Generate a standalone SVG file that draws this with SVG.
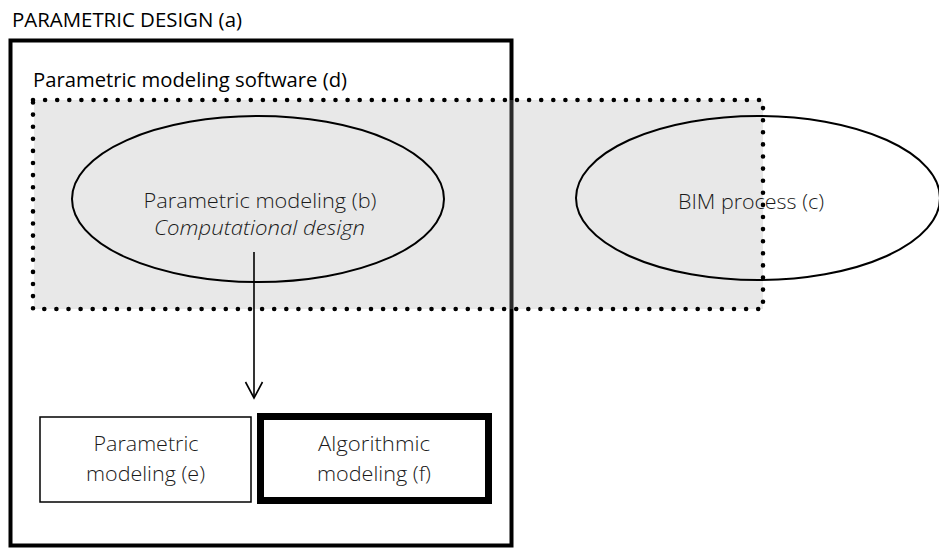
<svg xmlns="http://www.w3.org/2000/svg" width="939" height="548" viewBox="0 0 939 548">
<style>
text{font-family:"Open Sans","Liberation Sans",sans-serif;fill:#1a1a1a;}
.lt{font-weight:300;font-size:19.5px;}
.hd{font-weight:400;font-size:20px;fill:#000;}
.thin{fill:none;stroke:#000;stroke-width:2;}
</style>
<defs>
<clipPath id="fclip"><rect x="264" y="420" width="221" height="67"/></clipPath>
</defs>
<text class="hd" x="12" y="27" textLength="230" lengthAdjust="spacingAndGlyphs">PARAMETRIC DESIGN (a)</text>
<g id="a">
<rect x="10.5" y="40.5" width="501" height="505" fill="none" stroke="#000" stroke-width="4"/>
</g>
<g id="d">
<rect x="34" y="100" width="729" height="209" fill="#a5a5a5" fill-opacity="0.255"/>
<rect x="33" y="100" width="730" height="209" fill="none" stroke="#000" stroke-width="4.6" stroke-linecap="round" stroke-dasharray="0 12.1"/>
<text class="hd" x="33" y="87" textLength="314" lengthAdjust="spacingAndGlyphs">Parametric modeling software (d)</text>
</g>
<g id="b">
<ellipse cx="258" cy="199" rx="186" ry="83" class="thin"/>
<text class="lt" x="260" y="208" text-anchor="middle" textLength="233" lengthAdjust="spacingAndGlyphs">Parametric modeling (b)</text>
<text class="lt" x="259.5" y="235" text-anchor="middle" font-style="italic" textLength="211" lengthAdjust="spacingAndGlyphs">Computational design</text>
</g>
<g id="c">
<ellipse cx="758" cy="198" rx="182" ry="82" class="thin"/>
<text class="lt" x="751" y="209" text-anchor="middle" textLength="146" lengthAdjust="spacingAndGlyphs">BIM process (c)</text>
</g>
<g id="e">
<rect x="40" y="417" width="211" height="85" fill="#fff" stroke="#000" stroke-width="1.5"/>
<text class="lt" x="146" y="451" text-anchor="middle" textLength="105" lengthAdjust="spacingAndGlyphs">Parametric</text>
<text class="lt" x="145.5" y="481" text-anchor="middle" textLength="119" lengthAdjust="spacingAndGlyphs">modeling (e)</text>
</g>
<g id="f">
<rect x="260.5" y="416.5" width="228" height="84" fill="#fff" stroke="#000" stroke-width="7"/>
<text class="lt" x="374" y="451" text-anchor="middle" textLength="112" lengthAdjust="spacingAndGlyphs">Algorithmic</text>
<text class="lt" x="374" y="481" text-anchor="middle" textLength="114" lengthAdjust="spacingAndGlyphs" clip-path="url(#fclip)">modeling (f)</text>
</g>
<g id="connectors">
<line x1="254" y1="252" x2="254" y2="398" stroke="#000" stroke-width="1.6"/>
<path d="M245.5,382 L254,398 L262.5,382" fill="none" stroke="#000" stroke-width="1.6"/>
</g>
</svg>
